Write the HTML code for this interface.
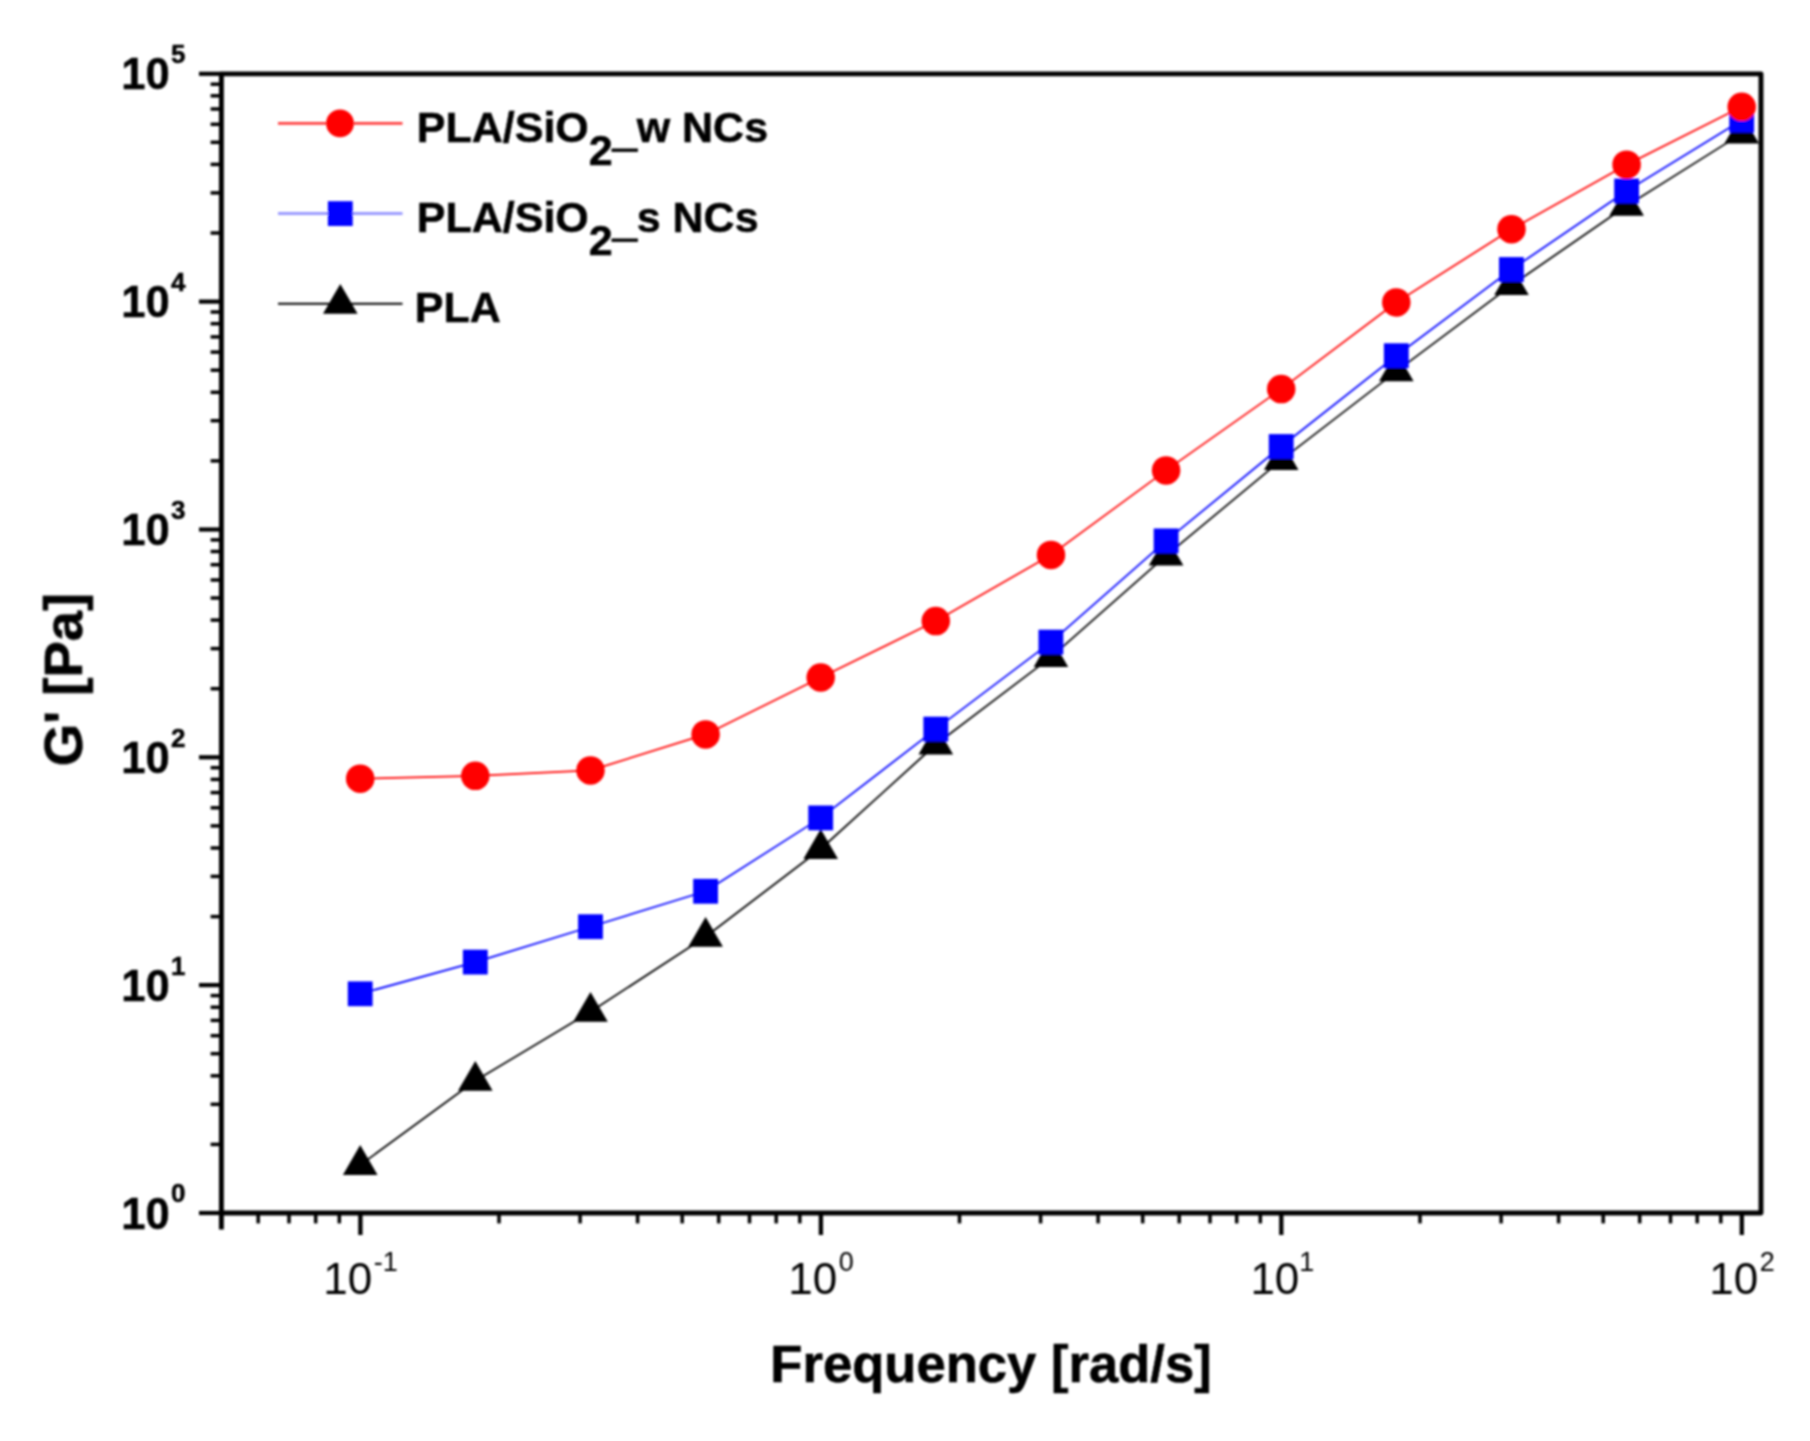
<!DOCTYPE html>
<html lang="en"><head><meta charset="utf-8"><title>G' vs Frequency</title>
<style>html,body{margin:0;padding:0;background:#fff}body{width:1810px;height:1441px;overflow:hidden}svg{display:block}text{font-family:"Liberation Sans",sans-serif;fill:#000;font-kerning:none}</style>
</head><body>
<svg width="1810" height="1441" viewBox="0 0 1810 1441">
<defs><filter id="soft" x="0" y="0" width="1810" height="1441" filterUnits="userSpaceOnUse"><feGaussianBlur stdDeviation="0.8"/></filter></defs>
<rect x="0" y="0" width="1810" height="1441" fill="#fff"/>
<g filter="url(#soft)">
<g id="series">
<polyline points="360.2,1165.0 475.3,1080.8 590.5,1011.8 705.6,936.8 820.7,849.0 935.8,744.5 1051.0,657.1 1166.1,555.7 1281.2,460.1 1396.3,371.4 1511.5,285.2 1626.6,205.8 1741.7,133.6" fill="none" stroke="#000" stroke-width="1.7" stroke-linejoin="round"/>
<polygon points="360.2,1145.1 377.5,1174.9 342.9,1174.9" fill="#000"/>
<polygon points="475.3,1060.9 492.6,1090.7 458.0,1090.7" fill="#000"/>
<polygon points="590.5,991.9 607.8,1021.7 573.2,1021.7" fill="#000"/>
<polygon points="705.6,916.9 722.9,946.7 688.3,946.7" fill="#000"/>
<polygon points="820.7,829.1 838.0,858.9 803.4,858.9" fill="#000"/>
<polygon points="935.8,724.6 953.1,754.4 918.5,754.4" fill="#000"/>
<polygon points="1051.0,637.2 1068.2,667.0 1033.7,667.0" fill="#000"/>
<polygon points="1166.1,535.8 1183.4,565.6 1148.8,565.6" fill="#000"/>
<polygon points="1281.2,440.2 1298.5,470.0 1263.9,470.0" fill="#000"/>
<polygon points="1396.3,351.5 1413.6,381.3 1379.0,381.3" fill="#000"/>
<polygon points="1511.5,265.3 1528.8,295.1 1494.2,295.1" fill="#000"/>
<polygon points="1626.6,185.9 1643.9,215.7 1609.3,215.7" fill="#000"/>
<polygon points="1741.7,113.7 1759.0,143.5 1724.4,143.5" fill="#000"/>
<polyline points="360.2,993.8 475.3,962.1 590.5,926.7 705.6,891.3 820.7,817.9 935.8,729.1 1051.0,642.1 1166.1,540.9 1281.2,446.5 1396.3,355.7 1511.5,269.5 1626.6,191.0 1741.7,120.2" fill="none" stroke="#0000ff" stroke-width="1.7" stroke-linejoin="round"/>
<rect x="347.8" y="981.4" width="24.8" height="24.8" fill="#0000ff"/>
<rect x="462.9" y="949.7" width="24.8" height="24.8" fill="#0000ff"/>
<rect x="578.1" y="914.3" width="24.8" height="24.8" fill="#0000ff"/>
<rect x="693.2" y="878.9" width="24.8" height="24.8" fill="#0000ff"/>
<rect x="808.3" y="805.5" width="24.8" height="24.8" fill="#0000ff"/>
<rect x="923.4" y="716.7" width="24.8" height="24.8" fill="#0000ff"/>
<rect x="1038.5" y="629.7" width="24.8" height="24.8" fill="#0000ff"/>
<rect x="1153.7" y="528.5" width="24.8" height="24.8" fill="#0000ff"/>
<rect x="1268.8" y="434.1" width="24.8" height="24.8" fill="#0000ff"/>
<rect x="1383.9" y="343.3" width="24.8" height="24.8" fill="#0000ff"/>
<rect x="1499.0" y="257.1" width="24.8" height="24.8" fill="#0000ff"/>
<rect x="1614.2" y="178.6" width="24.8" height="24.8" fill="#0000ff"/>
<rect x="1729.3" y="107.8" width="24.8" height="24.8" fill="#0000ff"/>
<polyline points="360.2,778.7 475.3,775.8 590.5,770.4 705.6,734.4 820.7,677.5 935.8,621.1 1051.0,554.9 1166.1,470.4 1281.2,389.1 1396.3,302.4 1511.5,229.2 1626.6,164.7 1741.7,106.8" fill="none" stroke="#ff0000" stroke-width="1.7" stroke-linejoin="round"/>
<circle cx="360.2" cy="778.7" r="14.25" fill="#ff0000"/>
<circle cx="475.3" cy="775.8" r="14.25" fill="#ff0000"/>
<circle cx="590.5" cy="770.4" r="14.25" fill="#ff0000"/>
<circle cx="705.6" cy="734.4" r="14.25" fill="#ff0000"/>
<circle cx="820.7" cy="677.5" r="14.25" fill="#ff0000"/>
<circle cx="935.8" cy="621.1" r="14.25" fill="#ff0000"/>
<circle cx="1051.0" cy="554.9" r="14.25" fill="#ff0000"/>
<circle cx="1166.1" cy="470.4" r="14.25" fill="#ff0000"/>
<circle cx="1281.2" cy="389.1" r="14.25" fill="#ff0000"/>
<circle cx="1396.3" cy="302.4" r="14.25" fill="#ff0000"/>
<circle cx="1511.5" cy="229.2" r="14.25" fill="#ff0000"/>
<circle cx="1626.6" cy="164.7" r="14.25" fill="#ff0000"/>
<circle cx="1741.7" cy="106.8" r="14.25" fill="#ff0000"/>
</g>
<g id="axes" stroke="#000" fill="none">
<rect x="221.4" y="73.85" width="1539.6" height="1139.15" stroke-width="4.9" stroke-linejoin="round"/>
<line x1="199.0" y1="1213.0" x2="221.4" y2="1213.0" stroke-width="4.2"/>
<line x1="210.6" y1="1144.4" x2="221.4" y2="1144.4" stroke-width="3.5"/>
<line x1="210.6" y1="1104.3" x2="221.4" y2="1104.3" stroke-width="3.5"/>
<line x1="210.6" y1="1075.8" x2="221.4" y2="1075.8" stroke-width="3.5"/>
<line x1="210.6" y1="1053.7" x2="221.4" y2="1053.7" stroke-width="3.5"/>
<line x1="210.6" y1="1035.7" x2="221.4" y2="1035.7" stroke-width="3.5"/>
<line x1="210.6" y1="1020.4" x2="221.4" y2="1020.4" stroke-width="3.5"/>
<line x1="210.6" y1="1007.2" x2="221.4" y2="1007.2" stroke-width="3.5"/>
<line x1="210.6" y1="995.6" x2="221.4" y2="995.6" stroke-width="3.5"/>
<line x1="199.0" y1="985.1" x2="221.4" y2="985.1" stroke-width="4.2"/>
<line x1="210.6" y1="916.6" x2="221.4" y2="916.6" stroke-width="3.5"/>
<line x1="210.6" y1="876.4" x2="221.4" y2="876.4" stroke-width="3.5"/>
<line x1="210.6" y1="848.0" x2="221.4" y2="848.0" stroke-width="3.5"/>
<line x1="210.6" y1="825.9" x2="221.4" y2="825.9" stroke-width="3.5"/>
<line x1="210.6" y1="807.8" x2="221.4" y2="807.8" stroke-width="3.5"/>
<line x1="210.6" y1="792.6" x2="221.4" y2="792.6" stroke-width="3.5"/>
<line x1="210.6" y1="779.4" x2="221.4" y2="779.4" stroke-width="3.5"/>
<line x1="210.6" y1="767.7" x2="221.4" y2="767.7" stroke-width="3.5"/>
<line x1="199.0" y1="757.3" x2="221.4" y2="757.3" stroke-width="4.2"/>
<line x1="210.6" y1="688.7" x2="221.4" y2="688.7" stroke-width="3.5"/>
<line x1="210.6" y1="648.6" x2="221.4" y2="648.6" stroke-width="3.5"/>
<line x1="210.6" y1="620.1" x2="221.4" y2="620.1" stroke-width="3.5"/>
<line x1="210.6" y1="598.0" x2="221.4" y2="598.0" stroke-width="3.5"/>
<line x1="210.6" y1="580.0" x2="221.4" y2="580.0" stroke-width="3.5"/>
<line x1="210.6" y1="564.7" x2="221.4" y2="564.7" stroke-width="3.5"/>
<line x1="210.6" y1="551.5" x2="221.4" y2="551.5" stroke-width="3.5"/>
<line x1="210.6" y1="539.9" x2="221.4" y2="539.9" stroke-width="3.5"/>
<line x1="199.0" y1="529.5" x2="221.4" y2="529.5" stroke-width="4.2"/>
<line x1="210.6" y1="460.9" x2="221.4" y2="460.9" stroke-width="3.5"/>
<line x1="210.6" y1="420.7" x2="221.4" y2="420.7" stroke-width="3.5"/>
<line x1="210.6" y1="392.3" x2="221.4" y2="392.3" stroke-width="3.5"/>
<line x1="210.6" y1="370.2" x2="221.4" y2="370.2" stroke-width="3.5"/>
<line x1="210.6" y1="352.1" x2="221.4" y2="352.1" stroke-width="3.5"/>
<line x1="210.6" y1="336.9" x2="221.4" y2="336.9" stroke-width="3.5"/>
<line x1="210.6" y1="323.7" x2="221.4" y2="323.7" stroke-width="3.5"/>
<line x1="210.6" y1="312.0" x2="221.4" y2="312.0" stroke-width="3.5"/>
<line x1="199.0" y1="301.6" x2="221.4" y2="301.6" stroke-width="4.2"/>
<line x1="210.6" y1="233.0" x2="221.4" y2="233.0" stroke-width="3.5"/>
<line x1="210.6" y1="192.9" x2="221.4" y2="192.9" stroke-width="3.5"/>
<line x1="210.6" y1="164.4" x2="221.4" y2="164.4" stroke-width="3.5"/>
<line x1="210.6" y1="142.3" x2="221.4" y2="142.3" stroke-width="3.5"/>
<line x1="210.6" y1="124.3" x2="221.4" y2="124.3" stroke-width="3.5"/>
<line x1="210.6" y1="109.0" x2="221.4" y2="109.0" stroke-width="3.5"/>
<line x1="210.6" y1="95.8" x2="221.4" y2="95.8" stroke-width="3.5"/>
<line x1="210.6" y1="84.2" x2="221.4" y2="84.2" stroke-width="3.5"/>
<line x1="199.0" y1="73.8" x2="221.4" y2="73.8" stroke-width="4.2"/>
<line x1="360.4" y1="1213.0" x2="360.4" y2="1235.0" stroke-width="4.3"/>
<line x1="820.9" y1="1213.0" x2="820.9" y2="1235.0" stroke-width="4.3"/>
<line x1="1281.3" y1="1213.0" x2="1281.3" y2="1235.0" stroke-width="4.3"/>
<line x1="1741.8" y1="1213.0" x2="1741.8" y2="1235.0" stroke-width="4.3"/>
<line x1="258.2" y1="1213.0" x2="258.2" y2="1223.4" stroke-width="3.5"/>
<line x1="289.0" y1="1213.0" x2="289.0" y2="1223.4" stroke-width="3.5"/>
<line x1="315.7" y1="1213.0" x2="315.7" y2="1223.4" stroke-width="3.5"/>
<line x1="339.3" y1="1213.0" x2="339.3" y2="1223.4" stroke-width="3.5"/>
<line x1="499.0" y1="1213.0" x2="499.0" y2="1223.4" stroke-width="3.5"/>
<line x1="580.1" y1="1213.0" x2="580.1" y2="1223.4" stroke-width="3.5"/>
<line x1="637.6" y1="1213.0" x2="637.6" y2="1223.4" stroke-width="3.5"/>
<line x1="682.2" y1="1213.0" x2="682.2" y2="1223.4" stroke-width="3.5"/>
<line x1="718.7" y1="1213.0" x2="718.7" y2="1223.4" stroke-width="3.5"/>
<line x1="749.5" y1="1213.0" x2="749.5" y2="1223.4" stroke-width="3.5"/>
<line x1="776.2" y1="1213.0" x2="776.2" y2="1223.4" stroke-width="3.5"/>
<line x1="799.8" y1="1213.0" x2="799.8" y2="1223.4" stroke-width="3.5"/>
<line x1="959.5" y1="1213.0" x2="959.5" y2="1223.4" stroke-width="3.5"/>
<line x1="1040.6" y1="1213.0" x2="1040.6" y2="1223.4" stroke-width="3.5"/>
<line x1="1098.1" y1="1213.0" x2="1098.1" y2="1223.4" stroke-width="3.5"/>
<line x1="1142.7" y1="1213.0" x2="1142.7" y2="1223.4" stroke-width="3.5"/>
<line x1="1179.2" y1="1213.0" x2="1179.2" y2="1223.4" stroke-width="3.5"/>
<line x1="1210.0" y1="1213.0" x2="1210.0" y2="1223.4" stroke-width="3.5"/>
<line x1="1236.7" y1="1213.0" x2="1236.7" y2="1223.4" stroke-width="3.5"/>
<line x1="1260.3" y1="1213.0" x2="1260.3" y2="1223.4" stroke-width="3.5"/>
<line x1="1420.0" y1="1213.0" x2="1420.0" y2="1223.4" stroke-width="3.5"/>
<line x1="1501.1" y1="1213.0" x2="1501.1" y2="1223.4" stroke-width="3.5"/>
<line x1="1558.6" y1="1213.0" x2="1558.6" y2="1223.4" stroke-width="3.5"/>
<line x1="1603.2" y1="1213.0" x2="1603.2" y2="1223.4" stroke-width="3.5"/>
<line x1="1639.7" y1="1213.0" x2="1639.7" y2="1223.4" stroke-width="3.5"/>
<line x1="1670.5" y1="1213.0" x2="1670.5" y2="1223.4" stroke-width="3.5"/>
<line x1="1697.2" y1="1213.0" x2="1697.2" y2="1223.4" stroke-width="3.5"/>
<line x1="1720.8" y1="1213.0" x2="1720.8" y2="1223.4" stroke-width="3.5"/>
<line x1="221.4" y1="1213.0" x2="221.4" y2="1229.5" stroke-width="4.9"/>
</g>
<g id="ylabels" font-weight="bold" stroke="#000" stroke-width="0.5">
<text x="121.3" y="1228.6" font-size="43.5">10<tspan dx="1.3" dy="-26.2" font-size="26">0</tspan></text>
<text x="121.3" y="1000.8" font-size="43.5">10<tspan dx="1.3" dy="-26.2" font-size="26">1</tspan></text>
<text x="121.3" y="772.9" font-size="43.5">10<tspan dx="1.3" dy="-26.2" font-size="26">2</tspan></text>
<text x="121.3" y="545.1" font-size="43.5">10<tspan dx="1.3" dy="-26.2" font-size="26">3</tspan></text>
<text x="121.3" y="317.2" font-size="43.5">10<tspan dx="1.3" dy="-26.2" font-size="26">4</tspan></text>
<text x="121.3" y="89.3" font-size="43.5">10<tspan dx="1.3" dy="-26.2" font-size="26">5</tspan></text>
</g>
<g id="xlabels">
<text x="323.2" y="1294" font-size="44">10<tspan dx="1.7" dy="-23" font-size="27">-1</tspan></text>
<text x="788.2" y="1294" font-size="44">10<tspan dx="1.7" dy="-23" font-size="27">0</tspan></text>
<text x="1250.4" y="1294" font-size="44">10<tspan dx="0.0" dy="-23" font-size="27">1</tspan></text>
<text x="1709.2" y="1294" font-size="44">10<tspan dx="1.7" dy="-23" font-size="27">2</tspan></text>
</g>
<text x="991" y="1382" font-size="52.6" font-weight="bold" text-anchor="middle" stroke="#000" stroke-width="0.6">Frequency [rad/s]</text>
<text transform="translate(81.9,679.5) rotate(-90)" font-size="54.5" font-weight="bold" text-anchor="middle" stroke="#000" stroke-width="0.6">G' [Pa]</text>
<g id="legend">
<line x1="278" y1="123.4" x2="402.5" y2="123.4" stroke="#ff4040" stroke-width="2.6"/>
<circle cx="340" cy="123.4" r="13.9" fill="#ff0000"/>
<line x1="278" y1="213.6" x2="402.5" y2="213.6" stroke="#9a9aff" stroke-width="3.0"/>
<rect x="327.9" y="201.2" width="24.8" height="24.8" fill="#0000ff"/>
<line x1="278" y1="303.8" x2="402.5" y2="303.8" stroke="#000" stroke-width="2.0"/>
<polygon points="340.3,283.9 357.6,313.7 323.0,313.7" fill="#000"/>
<text x="416.8" y="142.3" font-size="43" font-weight="bold" stroke="#000" stroke-width="0.5">PLA/SiO<tspan dy="22.7">2</tspan><tspan dy="-19.2" stroke="#000" stroke-width="1.8">_</tspan><tspan dy="-3.5">w NCs</tspan></text>
<text x="416.8" y="232.4" font-size="43" font-weight="bold" stroke="#000" stroke-width="0.5">PLA/SiO<tspan dy="22.7">2</tspan><tspan dy="-19.2" stroke="#000" stroke-width="1.8">_</tspan><tspan dy="-3.5">s NCs</tspan></text>
<text x="414.8" y="322.1" font-size="43" font-weight="bold" stroke="#000" stroke-width="0.5">PLA</text>
</g>
</g>
</svg>
</body></html>
